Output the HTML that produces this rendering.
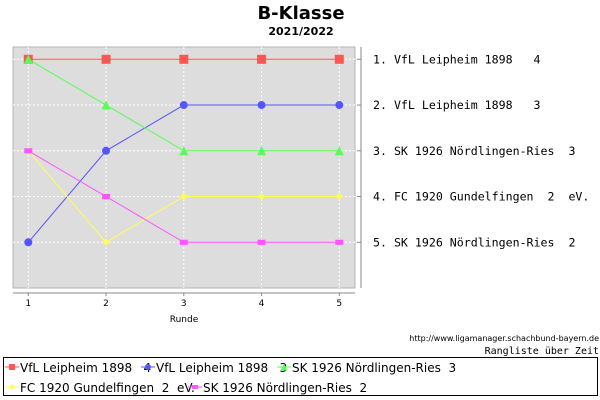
<!DOCTYPE html>
<html><head><meta charset="utf-8"><style>
body{margin:0;background:#fff;width:600px;height:400px;overflow:hidden}
svg{display:block}
text{white-space:pre}
</style></head><body>
<svg id="chart" width="600" height="400" xmlns="http://www.w3.org/2000/svg">
<text x="301" y="19" text-anchor="middle" font-family="DejaVu Sans, sans-serif" font-weight="bold" font-size="18">B-Klasse</text>
<text x="301" y="35" text-anchor="middle" font-family="DejaVu Sans, sans-serif" font-weight="bold" font-size="11">2021/2022</text>
<rect x="13" y="47" width="342" height="241" fill="#dddddd" stroke="#b4b4b4"/>
<g id="grid"></g><g id="series"></g><g id="axes"></g>
<text x="599" y="341" text-anchor="end" font-family="DejaVu Sans, sans-serif" font-size="8">http://www.ligamanager.schachbund-bayern.de</text>
<text x="599" y="354" text-anchor="end" font-family="DejaVu Sans Mono, monospace" font-size="10">Rangliste über Zeit</text>
<rect x="3.5" y="357.5" width="594" height="38" fill="#fff" stroke="#000"/>
<g id="legend"></g>
</svg>
<script>
const rounds=[1,2,3,4,5];
const teams=["VfL Leipheim 1898   4","VfL Leipheim 1898   3","SK 1926 Nördlingen-Ries  3","FC 1920 Gundelfingen  2  eV.","SK 1926 Nördlingen-Ries  2"];
const ranksRed=[1,1,1,1,1];
const ranksBlue=[5,3,2,2,2];
const ranksGreen=[1,2,3,3,3];
const ranksYellow=[3,5,4,4,4];
const ranksMagenta=[3,4,5,5,5];
const finalOrder=["1. VfL Leipheim 1898   4","2. VfL Leipheim 1898   3","3. SK 1926 Nördlingen-Ries  3","4. FC 1920 Gundelfingen  2  eV.","5. SK 1926 Nördlingen-Ries  2"];
const rankTicks=[1,2,3,4,5];

const NS="http://www.w3.org/2000/svg";
const xs=r=>28.3+(r-1)*(339.3-28.3)/4;
const ys=k=>59.3+(k-1)*45.75;
function mk(tag,attrs,parent){const e=document.createElementNS(NS,tag);for(const k in attrs)e.setAttribute(k,attrs[k]);parent.appendChild(e);return e;}
const grid=document.getElementById('grid'),axes=document.getElementById('axes'),ser=document.getElementById('series'),leg=document.getElementById('legend');
rounds.forEach(r=>{const l=mk('line',{x1:xs(r),x2:xs(r),y1:47,y2:288,stroke:'#fff','stroke-dasharray':'2,2'},grid);


const t=mk('line',{x1:xs(r),x2:xs(r),y1:293,y2:296,stroke:'#888'},axes);


const tx=mk('text',{x:xs(r),y:306,'text-anchor':'middle','font-family':'DejaVu Sans, sans-serif','font-size':'9'},axes);tx.textContent=r;

});
rankTicks.forEach((k,i)=>{const l=mk('line',{x1:13,x2:355,y1:ys(k),y2:ys(k),stroke:'#fff','stroke-dasharray':'2,2'},grid);


const t=mk('line',{x1:357,x2:361,y1:ys(k),y2:ys(k),stroke:'#888'},axes);


const tx=mk('text',{x:373,y:ys(k)+4,'font-family':'DejaVu Sans Mono, monospace','font-size':'11.6'},axes);tx.textContent=finalOrder[i];

});
let a=mk('line',{x1:13,x2:355,y1:293,y2:293,stroke:'#888'},axes);


a=mk('line',{x1:361,x2:361,y1:47,y2:288,stroke:'#888'},axes);


a=mk('text',{x:184,y:322,'text-anchor':'middle','font-family':'DejaVu Sans, sans-serif','font-size':'9'},axes);a.textContent='Runde';



function marker(shape,cx,cy,color,parent,s){
 if(shape==='sq')return mk('rect',{x:cx-s,y:cy-s,width:2*s,height:2*s,fill:color},parent);
 if(shape==='ci')return mk('circle',{cx:cx,cy:cy,r:s,fill:color},parent);
 if(shape==='tr')return mk('polygon',{points:`${cx},${cy-s} ${cx+s},${cy+s} ${cx-s},${cy+s}`,fill:color},parent);
 if(shape==='di')return mk('polygon',{points:`${cx},${cy-s} ${cx+s},${cy} ${cx},${cy+s} ${cx-s},${cy}`,fill:color},parent);
 return mk('rect',{x:cx-s,y:cy-s*0.65,width:2*s,height:1.3*s,fill:color},parent);
}
const seriesList=[[ranksRed,'#ff5555','sq',4.5,'series-red'],[ranksBlue,'#5555ff','ci',4,'series-blue'],[ranksGreen,'#55ff55','tr',4.5,'series-green'],[ranksYellow,'#ffff55','di',3.5,'series-yellow'],[ranksMagenta,'#ff55ff','re',4,'series-magenta']];
seriesList.forEach(([d,c,sh,s,name],i)=>{
 const g=mk('g',{},ser);
 
 
 const p=mk('polyline',{points:d.map((v,j)=>xs(rounds[j])+','+ys(v)).join(' '),fill:'none',stroke:c,'stroke-width':1},g);
 
 
 d.forEach((v,j)=>{const m=marker(sh,xs(rounds[j]),ys(v),c,g,s);
 
 });
 const lx=[5,141,277,5,188][i],ly=i<3?367:387;
 const lg=mk('g',{},leg);
 
 
 mk('line',{x1:lx,x2:lx+14,y1:ly,y2:ly,stroke:c},lg);
 marker(sh,lx+7,ly,c,lg,sh==='tr'?3.5:3);
 const t=mk('text',{x:lx+15,y:ly+5,'font-family':'DejaVu Sans, sans-serif','font-size':'12'},lg);t.textContent=teams[i];
});
</script>
</body></html>
